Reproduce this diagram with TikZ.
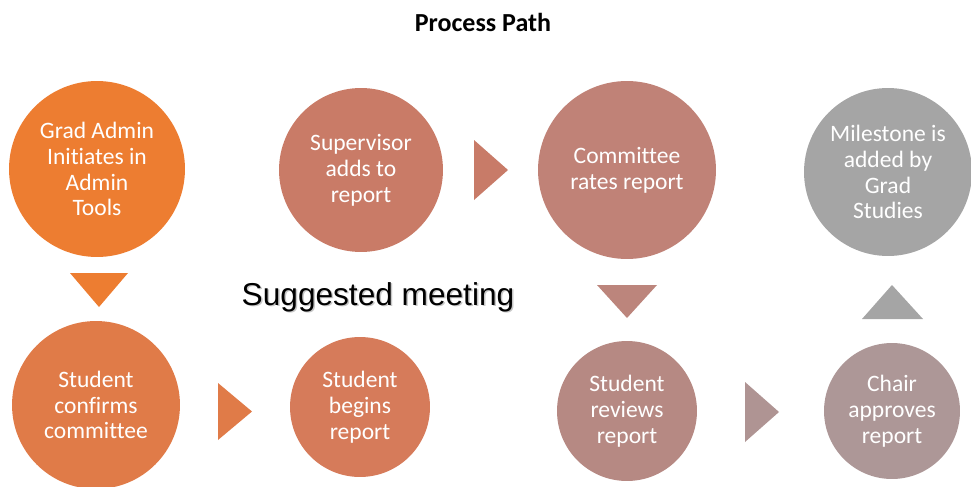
\documentclass[tikz,border=0pt]{standalone}
\usepackage{fontspec}
\setmainfont{Carlito}[Ligatures=NoCommon]
\newfontfamily\meetingfont{Liberation Sans}

\definecolor{fase1}{HTML}{ED7D31}
\definecolor{fase2}{HTML}{E07B48}
\definecolor{fase3}{HTML}{D67B5A}
\definecolor{fase4}{HTML}{C97B67}
\definecolor{fase5}{HTML}{C08277}
\definecolor{fase6}{HTML}{B68983}
\definecolor{fase7}{HTML}{AD9797}
\definecolor{fase8}{HTML}{A5A5A5}

\begin{document}
\begin{tikzpicture}[x=0.02cm, y=-0.02cm,
    fase/.style={circle, fill=#1, text=white, inner sep=0pt, align=center,
                 font=\fontsize{13.4}{14.7}\selectfont}]
        \useasboundingbox (0,0) rectangle (971,487);

        % Titolo
        \node (titolo) at (483,22) {\fontsize{14.8}{17}\selectfont\bfseries Process Path};

        % Fasi del percorso
        \node[fase=fase1, minimum size=3.52cm] (admin) at (97,169) {Grad Admin\\Initiates in\\Admin\\Tools};
        \node[fase=fase2, minimum size=3.36cm] (conferma) at (96,405) {Student\\confirms\\committee};
        \node[fase=fase3, minimum size=2.8cm] (inizio) at (360,407) {Student\\begins\\report};
        \node[fase=fase4, minimum size=3.28cm] (supervisore) at (361,170) {Supervisor\\adds to\\report};
        \node[fase=fase5, minimum size=3.56cm] (comitato) at (627,170) {Committee\\rates report};
        \node[fase=fase6, minimum size=2.8cm] (revisione) at (627,411) {Student\\reviews\\report};
        \node[fase=fase7, minimum size=2.72cm] (presidente) at (892,411) {Chair\\approves\\report};
        \node[fase=fase8, minimum size=3.36cm] (milestone) at (888,172) {Milestone is\\added by\\Grad\\Studies};

        % Frecce triangolari tra le fasi
        \fill[fase1] (70,273) -- (128,273) -- (99,307) -- cycle; % admin -> conferma
        \fill[fase2] (218,383) -- (218,440) -- (252,411.5) -- cycle; % conferma -> inizio
        \fill[fase4!95!fase5] (474,140) -- (474,200) -- (508,170) -- cycle; % supervisore -> comitato
        \fill[fase5!60!fase6] (597,285) -- (657,285) -- (627,318) -- cycle; % comitato -> revisione
        \fill[fase7!80!fase6] (745,382) -- (745,442) -- (779,412) -- cycle; % revisione -> presidente
        \fill[fase8] (862,319) -- (923,319) -- (892,285) -- cycle; % presidente -> milestone

        % Nota con ombra
        \node[text=black!22, font=\meetingfont\fontsize{18}{21}\selectfont] at (379.5,298.5) {Suggested meeting};
        \node[font=\meetingfont\fontsize{18}{21}\selectfont] (incontro) at (378,297) {Suggested meeting};
\end{tikzpicture}
\end{document}
